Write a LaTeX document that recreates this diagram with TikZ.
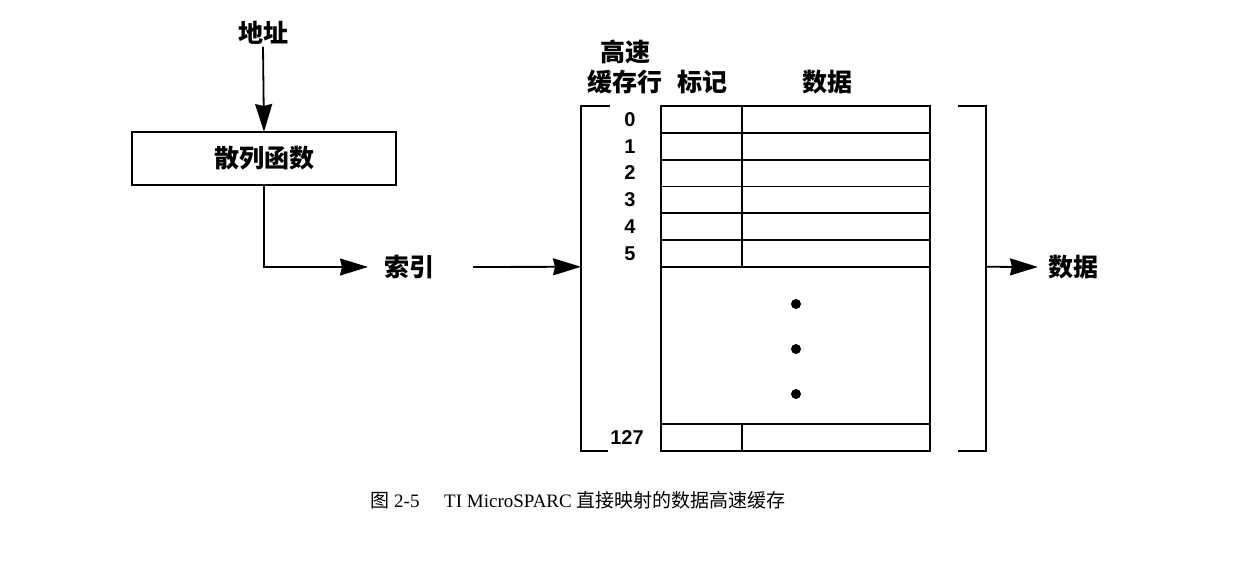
\documentclass[tikz,border=0pt]{standalone}
\usepackage{fontspec}
\setmainfont{Liberation Serif}
\newfontfamily\cjk{Noto Sans CJK SC}
\newfontfamily\numfont{Liberation Sans}
\usetikzlibrary{calc,arrows.meta}
\newcommand{\makerow}[2]{
    \node (tag #1) [cell,minimum width=\tagw,anchor=north west] at (#2) {};
    \node (data #1) [cell,minimum width=\dataw,anchor=north west] at (tag #1.north east) {};
}

\begin{document}
\begin{tikzpicture}[x=1pt,y=-1pt,every node/.style={outer sep=0pt,inner sep=2pt}]

% cell sizes of the cache
\pgfmathsetmacro{\tagw}{81}
\pgfmathsetmacro{\dataw}{188}
\pgfmathsetmacro{\rowh}{26.8}

\tikzstyle{word}=[font=\cjk\bfseries\fontsize{25}{30}\selectfont]
\tikzstyle{num}=[font=\numfont\bfseries\fontsize{20}{22}\selectfont]
\tikzstyle{box}=[draw,line width=1.8pt,minimum width=264,minimum height=53]
\tikzstyle{cell}=[draw,line width=1.8pt,minimum height=\rowh]
\tikzstyle{bullet}=[circle,fill,minimum size=10,inner sep=0pt]
\tikzstyle{arr}=[line width=1.8pt,-{Stealth[length=28pt,width=17pt,inset=2pt]}]
\tikzstyle{bracket}=[line width=1.8pt]

\useasboundingbox (0,0) rectangle (1240,562);

\node (addr) [word] at (263,33) {地址};
\node (hash) [box,word] at (264,158.5) {散列函数};
\node (idx) [word] at (409,267) {索引};
\draw[arr] (addr.south) -- (hash.north);
\draw[arr,shorten >=14pt] (hash.south) |- (idx.west);

% rows of the cache
\foreach \i in {0, ..., 5} {
    \makerow{\i}{661,106+\i*\rowh}
    \node (num \i) [num] at ($(tag \i.west)+(-31,0)$) {\i};
}
\node (gap) [cell,minimum width=\tagw+\dataw,minimum height=157,anchor=north west] at (tag 5.south west) {};
\makerow{127}{gap.south west}
\node (num 127) [num] at ($(tag 127.west)+(-34,0)$) {127};
\foreach \y [count=\k] in {304,349,394} {
    \node (bullet \k) [bullet] at (796,\y) {};
}

\node (rowhead) [word,align=center] at (625,67) {高速\\缓存行};
\node (taghead) [word] at (702,82) {标记};
\node (datahead) [word] at (827,82) {数据};

% brackets round the cache
\draw[bracket] ([xshift=-51]tag 0.north west) -- ++(-29,0) |- ([xshift=-53]tag 127.south west);
\draw[bracket] ([xshift=28]data 0.north east) -- ++(28,0) |- ([xshift=28]data 127.south east);
\coordinate (lbr) at ([xshift=-80]tag 5.south west);
\coordinate (rbr) at ([xshift=56]data 5.south east);

\node (out) [word] at (1073,267) {数据};
\draw[arr,shorten <=37pt] (idx.east) -- (lbr);
\draw[arr,shorten >=8pt] (rbr) -- (out.west);

\node (figcap) [font=\fontsize{19}{21}\selectfont] at (578,500) {{\cjk 图} 2-5\hspace{1.3em}TI MicroSPARC {\cjk 直接映射的数据高速缓存}};
\end{tikzpicture}
\end{document}
